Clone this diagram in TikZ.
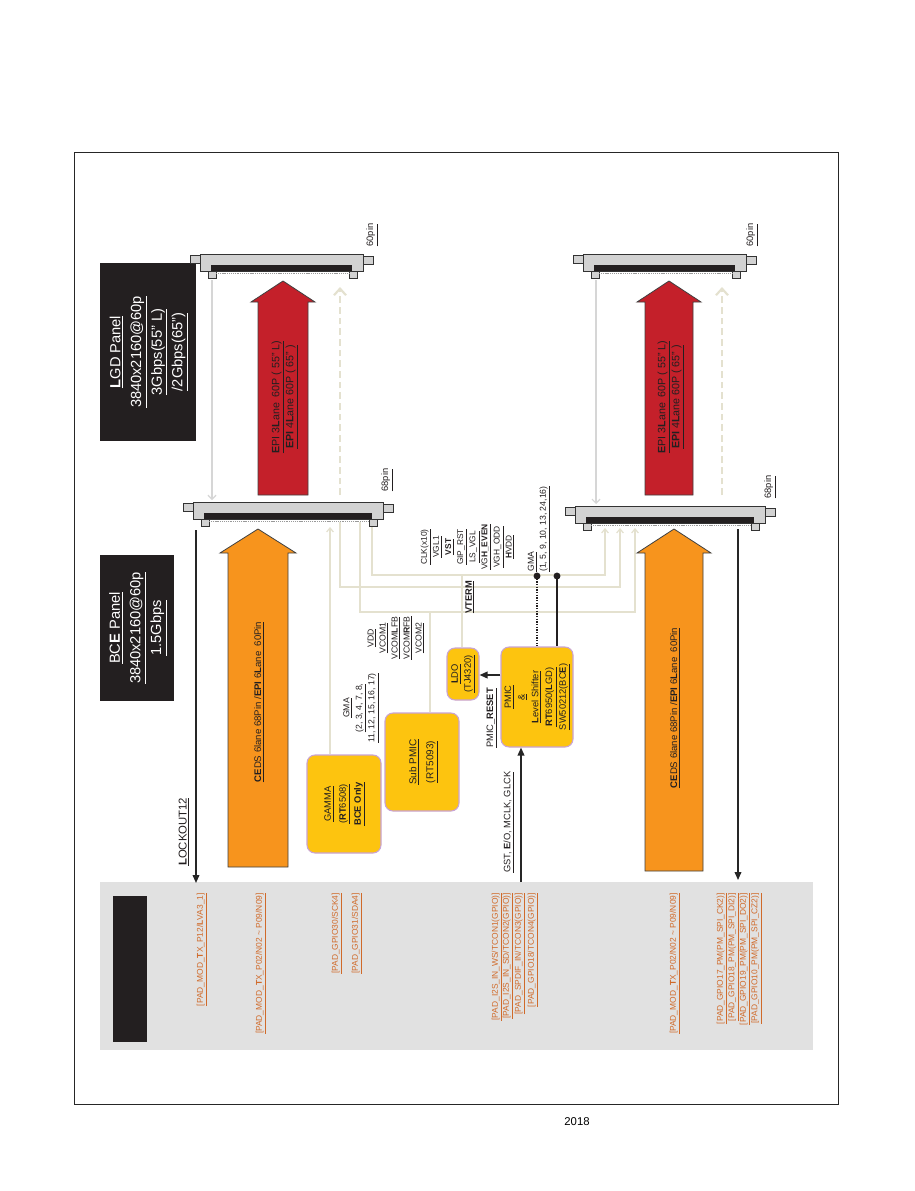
\documentclass[tikz,border=0pt]{standalone}
\usepackage{fontspec}
\setmainfont{Liberation Sans}
\usetikzlibrary{arrows.meta}
\definecolor{panelblack}{HTML}{231F20}
\definecolor{redarrow}{HTML}{C4202A}
\definecolor{orangearrow}{HTML}{F7941D}
\definecolor{chipfill}{HTML}{FDC40F}
\definecolor{chipedge}{HTML}{C9A3D4}
\definecolor{padorange}{HTML}{D06A2A}
\definecolor{graybg}{HTML}{E1E1E1}
\definecolor{beige}{HTML}{E4E1CF}
\definecolor{lightgrayline}{HTML}{D6D6D6}
\newcommand{\fpcconn}[4]{%
  \draw[fpcbody] ({#1-10},{#2+1}) rectangle ({#1},{#2+9});
  \draw[fpcbody] ({#1+#3},{#2+2}) rectangle ({#1+#3+10},{#2+10});
  \draw[fpcbody] ({#1+8},{#2+16}) rectangle ({#1+16},{#2+24});
  \draw[fpcbody] ({#1+#3-14},{#2+16}) rectangle ({#1+#3-6},{#2+24});
  \draw[fpcbody] (#1,#2) rectangle ({#1+#3},{#2+17});
  \fill[panelblack] ({#1+11},{#2+11}) rectangle ({#1+#3-11},{#2+17});
  \draw[fpcpins] ({#1+16},{#2+19.5}) -- ({#1+#3-14},{#2+19.5});
  \coordinate (#4) at ({#1+#3/2},{#2+17});
}
\tikzset{
  outerframe/.style={draw=black!85, line width=0.7pt},
  panelbox/.style={fill=panelblack, draw=none, inner sep=0pt},
  paneltext/.style={rotate=90, text=white, align=center, font=\fontsize{11}{15.5}\selectfont, inner sep=0pt},
  bigred/.style={fill=redarrow, draw=black!75, line width=0.6pt},
  bigorange/.style={fill=orangearrow, draw=black!75, line width=0.6pt},
  arrtext/.style={rotate=90, align=center, text=panelblack, inner sep=0pt},
  chip/.style={fill=chipfill, draw=chipedge, line width=0.8pt, rounded corners=6pt, inner sep=0pt},
  chiptext/.style={rotate=90, align=center, text=panelblack, inner sep=0pt},
  lbl/.style={rotate=90, align=center, text=panelblack, inner sep=0pt, font=\fontsize{6.5}{9}\selectfont},
  padlbl/.style={rotate=90, anchor=east, inner sep=0pt, text=padorange, font=\fontsize{6.3}{7}\selectfont},
  sigarrow/.style={draw=black!85, line width=1.1pt, -{Triangle[length=6pt,width=5pt]}},
  netline/.style={draw=beige, line width=0.9pt},
  netarrow/.style={netline, -{Straight Barb[length=3pt,width=5pt]}},
  greylink/.style={draw=lightgrayline, line width=0.9pt, -{Straight Barb[length=3pt,width=6pt]}},
  lightdash/.style={draw=beige, line width=1.6pt, dash pattern=on 5pt off 3pt, -{Straight Barb[length=5pt,width=9pt]}},
  fpcbody/.style={fill=gray!35, draw=black!80, line width=0.6pt},
  fpcpins/.style={draw=gray!80, line width=1.2pt, dash pattern=on 0.8pt off 0.6pt},
}
\begin{document}
\begin{tikzpicture}[x=0.75pt,y=-0.75pt]
\useasboundingbox (0,0) rectangle (914,1191);
\fill[white] (0,0) rectangle (914,1191);
% frame and year
\draw[outerframe] (74,152) rectangle (838,1104);
\node[font=\fontsize{8.5}{10}\selectfont] (year) at (577,1122) {2018};
% gray SoC region
\fill[graybg] (100,882) rectangle (813,1050);
\fill[panelblack] (113,896) rectangle (147,1042);
% panel boxes
\node[panelbox, minimum width=72pt, minimum height=133.5pt] (lgdbox) at (148,352) {};
\node[paneltext] (lgdtext) at (149,352) {\underline{\textbf{L}GD Panel}\\\underline{3840x2160@60p}\\\underline{3Gbps(55" L)}\\\underline{/2Gbps(65")}};
\node[panelbox, minimum width=55.5pt, minimum height=109.5pt] (bcebox) at (137,628) {};
\node[paneltext] (bcetext) at (138,628) {\underline{BC\textbf{E} Panel}\\\underline{3840x2160@60p}\\\underline{1.5Gbps}};
% light links between connectors
\draw[greylink] (212,280) -- (212,500);
\draw[greylink] (596,280) -- (596,504);
\draw[lightdash] (340,495) -- (340,287);
\draw[lightdash] (722,495) -- (722,287);
% chips and beige signal network
\node[chip, minimum width=55.5pt, minimum height=73.5pt] (gamma) at (344,804) {};
\node[chip, minimum width=55.5pt, minimum height=73.5pt] (subpmic) at (422,762) {};
\node[chip, minimum width=24pt, minimum height=39pt] (ldo) at (463,674) {};
\node[chip, minimum width=54pt, minimum height=75pt] (pmic) at (537,697) {};
\draw[netarrow] (330,0 |- gamma.north) -- (330,527);
\draw[netarrow] (340,522) -- (340,587) -- (620,587) -- (620,528);
\draw[netarrow] (372,522) -- (372,575) -- (605,575) -- (605,528);
\draw[netarrow] (360,522) -- (360,612) -- (635,612) -- (635,528);
\draw[netline] (430,0 |- subpmic.north) -- (430,612);
\draw[netline] (462,0 |- ldo.north) -- (462,575);
% connectors
\fpcconn{200}{254}{163}{conTL}
\fpcconn{583}{254}{163}{conTR}
\fpcconn{193}{502}{190}{conML}
\fpcconn{575}{506}{190}{conMR}
% big arrows
\path[bigred] (258,495) -- (258,302) -- (251,302) -- (283,281) -- (315,302) -- (308,302) -- (308,495) -- cycle;
\path[bigred] (645,495) -- (645,302) -- (637,302) -- (669,281) -- (701,302) -- (693,302) -- (693,495) -- cycle;
\path[bigorange] (228,867) -- (228,553) -- (220,553) -- (258,529) -- (296,553) -- (288,553) -- (288,867) -- cycle;
\path[bigorange] (645,871) -- (645,553) -- (637,553) -- (674,529) -- (711,553) -- (703,553) -- (703,871) -- cycle;
\node[arrtext, font=\fontsize{8}{10.5}\selectfont] (redtextL) at (285,397) {\underline{\textbf{E}PI 3\textbf{L}ane \ 60P ( 55" L)}\\\underline{\textbf{EPI} 4\textbf{L}ane 60P ( 65" )}};
\node[arrtext, font=\fontsize{8}{10.5}\selectfont] (redtextR) at (671,397) {\underline{\textbf{E}PI 3\textbf{L}ane \ 60P ( 55" L)}\\\underline{\textbf{EPI} 4\textbf{L}ane 60P ( 65" )}};
\node[arrtext, font=\fontsize{7.2}{9}\selectfont] (orangetextL) at (259,702) {\underline{\textbf{CE}DS 6lane 68Pin /\textbf{EPI} 6\textbf{L}ane \ 60Pin}};
\node[arrtext, font=\fontsize{7.2}{9}\selectfont] (orangetextR) at (675,708) {\underline{\textbf{CE}DS 6lane 68Pin /\textbf{EPI} 6\textbf{L}ane \ 60Pin}};
% chip texts
\node[chiptext, font=\fontsize{7}{11.25}\selectfont] (gammatext) at (345,804) {\underline{GAMMA}\\\underline{(\textbf{RT}6508)}\\\underline{\textbf{BCE Only}}};
\node[chiptext, font=\fontsize{7.5}{12.75}\selectfont] (subpmictext) at (423.5,762) {\underline{Sub PMIC}\\\underline{(RT5093)}};
\node[chiptext, font=\fontsize{7}{9.75}\selectfont] (ldotext) at (463.5,674) {\underline{\textbf{L}DO}\\\underline{(TJ4320)}};
\node[chiptext, font=\fontsize{7}{10.3}\selectfont] (pmictext) at (537.5,697) {\underline{PMIC}\\\underline{\&}\\\underline{\textbf{L}evel Shifter}\\\underline{\textbf{RT}6950(\textbf{L}GD)}\\\underline{SW50212(BC\textbf{E})}};
% PMIC connections
\fill[panelblack] (537,576) circle[radius=2.6pt];
\fill[panelblack] (557,576) circle[radius=2.6pt];
\draw[panelblack, line width=1pt, densely dotted] (537,576) -- (537,0 |- pmic.north);
\draw[panelblack, line width=1pt] (557,576) -- (557,0 |- pmic.north);
\draw[sigarrow] (pmic.west |- 0,675) -- (ldo.east |- 0,675);
\draw[sigarrow] (521,882) -- (521,0 |- pmic.south);
% long arrows
\coordinate (lockstart) at (196,530);
\coordinate (lockend) at (196,883);
\draw[sigarrow] (lockstart) -- (lockend);
\coordinate (rstart) at (738,529);
\coordinate (rend) at (738,880);
\draw[sigarrow] (rstart) -- (rend);
% labels
\node[lbl, font=\fontsize{7}{9}\selectfont] (pin60L) at (372,235) {\underline{60pin}};
\node[lbl, font=\fontsize{7}{9}\selectfont] (pin60R) at (752,235) {\underline{60pin}};
\node[lbl, font=\fontsize{7}{9}\selectfont] (pin68L) at (387,480) {\underline{68pin}};
\node[lbl, font=\fontsize{7}{9}\selectfont] (pin68R) at (770,487) {\underline{68pin}};
\node[lbl, anchor=west, font=\fontsize{8.5}{10}\selectfont] (lockout) at (184,866) {\underline{\textbf{L}OCKOUT12}};
\node[lbl, anchor=west, font=\fontsize{7}{9}\selectfont] (gstlbl) at (509,873) {\underline{GST, \textbf{E}/O, MCLK, GLCK}};
\node[lbl, font=\fontsize{7}{9}\selectfont] (pmicreset) at (492,718) {\underline{PMIC\_\textbf{RESET}}};
\node[lbl, font=\fontsize{7}{9}\selectfont] (vterm) at (470,597) {\underline{\textbf{VTERM}}};
\node[lbl, font=\fontsize{6.5}{9}\selectfont] (vddgrp) at (396,638) {\underline{VDD}\\\underline{VCOM1}\\\underline{VCOM\textbf{L}FB}\\\underline{VCOM\textbf{R}FB}\\\underline{VCOM2}};
\node[lbl, font=\fontsize{6.5}{9.4}\selectfont] (gmagrp) at (361,708) {\underline{GMA}\\\underline{(2, 3, 4, 7, 8,}\\\underline{11, 12, 15, 16, 17)}};
\node[lbl, font=\fontsize{6.3}{9.1}\selectfont] (clkgrp) at (467.5,547) {\underline{CLK(x10)}\\\underline{VGL1}\\\underline{\textbf{VST}}\\\underline{GIP\_RST}\\\underline{LS\_VGL}\\\underline{VG\textbf{H\_EVEN}}\\\underline{VGH\_ODD}\\\underline{\textbf{H}VDD}};
\node[lbl, align=left, anchor=north west, font=\fontsize{6.5}{9}\selectfont] (gmagrp2) at (527.5,572) {\underline{GMA}\\\underline{(1, 5, 9, 10, 13, 24,16)}};
% SoC pad labels
\node[padlbl] (pad1) at (202,893) {\underline{[PAD\_MOD\_\textbf{T}X\_P12/\textbf{L}VA3\_1]}};
\node[padlbl] (pad2) at (261,893) {\underline{[PAD\_MOD\_\textbf{T}X\_P02/N02 \textasciitilde\ P09/N09]}};
\node[padlbl] (pad3) at (337,893) {\underline{[PAD\_GPIO30/SCK4]}};
\node[padlbl] (pad4) at (357,893) {\underline{[PAD\_GPIO31/SDA4]}};
\node[padlbl] (pad5) at (497,893) {\underline{[PAD\_I2S\_IN\_WS/TCON1(GPIO)]}};
\node[padlbl] (pad6) at (508,893) {\underline{[PAD\_I2S\_IN\_SD/TCON2(GPIO)]}};
\node[padlbl] (pad7) at (520,893) {\underline{[PAD\_SPDIF\_IN/TCON3(GPIO)]}};
\node[padlbl] (pad8) at (533,893) {\underline{[PAD\_GPIO18/TCON4(GPIO)]}};
\node[padlbl] (pad9) at (675,893) {\underline{[PAD\_MOD\_\textbf{T}X\_P02/N02 \textasciitilde\ P09/N09]}};
\node[padlbl] (pad10) at (722,893) {\underline{[PAD\_GPIO17\_PM(PM\_SPI\_CK2)]}};
\node[padlbl] (pad11) at (733.5,893) {\underline{[PAD\_GPIO18\_PM(PM\_SPI\_DI2)]}};
\node[padlbl] (pad12) at (745,893) {\underline{[PAD\_GPIO19\_PM(PM\_SPI\_DO2)]}};
\node[padlbl] (pad13) at (756.5,893) {\underline{[PAD\_GPIO10\_PM(PM\_SPI\_CZ2)]}};
\end{tikzpicture}
\end{document}
